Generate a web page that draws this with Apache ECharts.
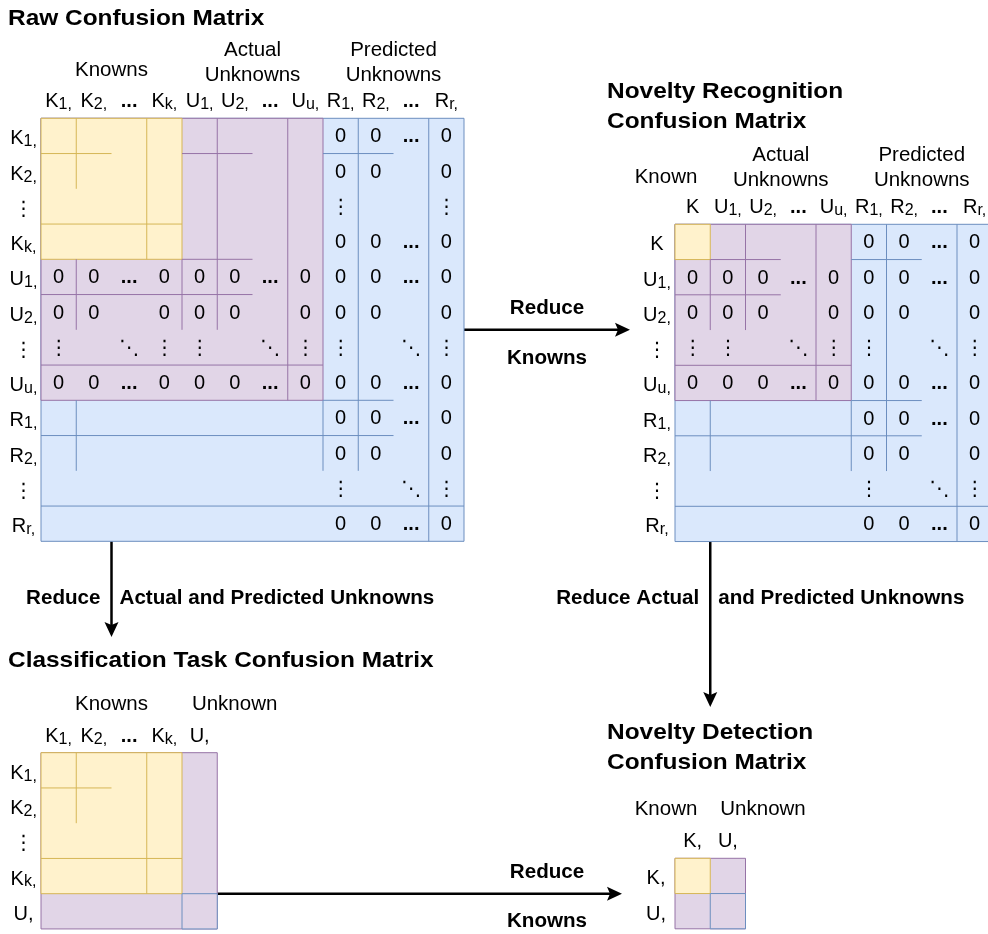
<!DOCTYPE html>
<html><head><meta charset="utf-8">
<script src="https://cdn.jsdelivr.net/npm/echarts@6/dist/echarts.min.js"></script>
<style>html,body{margin:0;padding:0;background:#fff}#c{width:988px;height:934px}</style>
</head><body><div id="c"></div>
<script>
// ================= DATA =================
// Raw confusion matrix
const rawRowLabels = ['K_1,','K_2,','⋮','K_k,','U_1,','U_2,','⋮','U_u,','R_1,','R_2,','⋮','R_r,'];
const rawColLabels = ['K_1,','K_2,','...','K_k,','U_1,','U_2,','...','U_u,','R_1,','R_2,','...','R_r,'];
const rawHeaders = ['Knowns','Actual\nUnknowns','Predicted\nUnknowns'];
const rawCells = [
  ['','','','','','','','','0','0','...','0'],
  ['','','','','','','','','0','0','','0'],
  ['','','','','','','','','⋮','','','⋮'],
  ['','','','','','','','','0','0','...','0'],
  ['0','0','...','0','0','0','...','0','0','0','...','0'],
  ['0','0','','0','0','0','','0','0','0','','0'],
  ['⋮','','⋱','⋮','⋮','','⋱','⋮','⋮','','⋱','⋮'],
  ['0','0','...','0','0','0','...','0','0','0','...','0'],
  ['','','','','','','','','0','0','...','0'],
  ['','','','','','','','','0','0','','0'],
  ['','','','','','','','','⋮','','⋱','⋮'],
  ['','','','','','','','','0','0','...','0']
];
// blocks: [kind, firstRow, lastRow, firstCol, lastCol]
const rawBlocks = [['predicted',0,11,0,11],['actual',0,7,0,7],['known',0,3,0,3]];
// dividers: [kind, 'v'|'h', boundary, from, to]
const rawDividers = [
  ['known','v',1,0,2],['known','h',1,0,2],['known','v',3,0,4],['known','h',3,0,4],
  ['actual','h',1,4,6],['actual','v',5,0,6],['actual','v',7,0,8],['actual','h',4,4,6],
  ['actual','v',4,4,6],['actual','v',1,4,6],['actual','h',5,0,6],['actual','h',7,0,8],
  ['predicted','v',8,8,10],['predicted','v',9,0,10],['predicted','h',1,8,10],['predicted','v',11,0,12],
  ['predicted','h',8,8,10],['predicted','h',9,0,10],['predicted','v',1,8,10],['predicted','h',11,0,12]
];

// Novelty recognition confusion matrix
const nrRowLabels = ['K','U_1,','U_2,','⋮','U_u,','R_1,','R_2,','⋮','R_r,'];
const nrColLabels = ['K','U_1,','U_2,','...','U_u,','R_1,','R_2,','...','R_r,'];
const nrHeaders = ['Known','Actual\nUnknowns','Predicted\nUnknowns'];
const nrCells = [
  ['','','','','','0','0','...','0'],
  ['0','0','0','...','0','0','0','...','0'],
  ['0','0','0','','0','0','0','','0'],
  ['⋮','⋮','','⋱','⋮','⋮','','⋱','⋮'],
  ['0','0','0','...','0','0','0','...','0'],
  ['','','','','','0','0','...','0'],
  ['','','','','','0','0','','0'],
  ['','','','','','⋮','','⋱','⋮'],
  ['','','','','','0','0','...','0']
];
const nrBlocks = [['predicted',0,8,0,8],['actual',0,4,0,4],['known',0,0,0,0]];
const nrDividers = [
  ['actual','v',2,0,3],['actual','v',1,1,3],['actual','v',4,0,5],['actual','h',1,1,3],
  ['actual','h',2,0,3],['actual','h',4,0,5],
  ['predicted','v',5,5,7],['predicted','v',6,0,7],['predicted','h',1,5,7],['predicted','h',5,5,7],
  ['predicted','h',6,0,7],['predicted','v',1,5,7],['predicted','v',8,0,9],['predicted','h',8,0,9]
];

// Classification task confusion matrix
const ctRowLabels = ['K_1,','K_2,','⋮','K_k,','U,'];
const ctColLabels = ['K_1,','K_2,','...','K_k,','U,'];
const ctHeaders = ['Knowns','Unknown'];
const ctCells = [];
const ctBlocks = [['actual',0,4,0,4],['known',0,3,0,3],['overlap',4,4,4,4]];
const ctDividers = [['known','v',1,0,2],['known','h',1,0,2],['known','v',3,0,4],['known','h',3,0,4]];

// Novelty detection confusion matrix
const ndRowLabels = ['K,','U,'];
const ndColLabels = ['K,','U,'];
const ndHeaders = ['Known','Unknown'];
const ndCells = [];
const ndBlocks = [['actual',0,1,0,1],['known',0,0,0,0],['overlap',1,1,1,1]];
const ndDividers = [];

const titles = ['Raw Confusion Matrix','Novelty Recognition\nConfusion Matrix','Classification Task Confusion Matrix','Novelty Detection\nConfusion Matrix'];
const arrowLabels = [['Reduce','Knowns'],['Reduce','Actual and Predicted Unknowns'],['Reduce Actual','and Predicted Unknowns'],['Reduce','Knowns']];

// ================= STYLE / LAYOUT =================
const FONT = "'Liberation Sans', Arial, Helvetica, 'DejaVu Sans', sans-serif";
const STYLE = {
  known: {fill:'#fff2cc', stroke:'#d6b656'},
  actual: {fill:'#e1d5e7', stroke:'#9673a6'},
  predicted: {fill:'#dae8fc', stroke:'#6c8ebf'},
  overlap: {fill:'#e1d5e7', stroke:'#6c8ebf'}
};
const CELL = 35.25;
const M = [
  {left:41, top:118.3, rows:rawRowLabels, cols:rawColLabels, cells:rawCells, blocks:rawBlocks, dividers:rawDividers, rowMargin:17.5},
  {left:675, top:224.3, rows:nrRowLabels, cols:nrColLabels, cells:nrCells, blocks:nrBlocks, dividers:nrDividers, rowMargin:18},
  {left:41, top:752.7, rows:ctRowLabels, cols:ctColLabels, cells:ctCells, blocks:ctBlocks, dividers:ctDividers, rowMargin:17.5},
  {left:675, top:858.3, rows:ndRowLabels, cols:ndColLabels, cells:ndCells, blocks:ndBlocks, dividers:ndDividers, rowMargin:19}
];

function labelFmt(v){
  const i = v.indexOf('_');
  if (i >= 0) return '{b|' + v.slice(0,i) + '}{s|' + v.slice(i+1) + '}';
  if (v === '...') return '{d|...}';
  return '{n|' + v + '}';
}
const RICH = {
  b:{fontSize:20, fontFamily:FONT, color:'#000', padding:[7,0,0,0], verticalAlign:'top'},
  s:{fontSize:16, fontFamily:FONT, color:'#000', padding:[12,0,0,0], verticalAlign:'top'},
  n:{fontSize:20, fontFamily:FONT, color:'#000', padding:[7,0,1,0], verticalAlign:'top'},
  d:{fontSize:20, fontWeight:'bold', fontFamily:FONT, color:'#000', padding:[7,0,1,0], verticalAlign:'top'}
};

function flatten(rows){ const out=[]; rows.forEach((row,r)=>row.forEach((t,c)=>{ if(t) out.push([c,r,t]); })); return out; }

const grid=[], xAxis=[], yAxis=[], series=[];
M.forEach((m,g)=>{
  grid.push({left:m.left, top:m.top, width:m.cols.length*CELL, height:m.rows.length*CELL, containLabel:false, outerBoundsMode:'none'});
  xAxis.push({gridIndex:g, type:'category', data:m.cols, position:'top', axisLine:{show:false}, axisTick:{show:false}, splitLine:{show:false},
    axisLabel:{interval:0, margin:5.5, formatter:labelFmt, rich:RICH}});
  yAxis.push({gridIndex:g, type:'category', data:m.rows, inverse:true, axisLine:{show:false}, axisTick:{show:false}, splitLine:{show:false},
    axisLabel:{interval:0, align:'center', margin:m.rowMargin, formatter:labelFmt, rich:RICH}});
  const blocks = m.blocks;
  series.push({type:'custom', xAxisIndex:g, yAxisIndex:g, silent:true, clip:false,
    data: blocks.map(b=>[b[3], b[1], b[4], b[2]]), encode:{x:[0,2], y:[1,3]},
    renderItem:(p, api)=>{
      const b = blocks[p.dataIndex]; const w = api.size([1,1]);
      const a = api.coord([b[3], b[1]]); const z = api.coord([b[4], b[2]]);
      const st = STYLE[b[0]];
      return {type:'rect', shape:{x:a[0]-w[0]/2, y:a[1]-w[1]/2, width:z[0]-a[0]+w[0], height:z[1]-a[1]+w[1]},
        style:{fill:st.fill, stroke:st.stroke, lineWidth:1}};
    }});
  const dv = m.dividers;
  if (dv.length) series.push({type:'custom', xAxisIndex:g, yAxisIndex:g, silent:true, clip:false,
    data: dv.map(d=>d[0]==='v' ? [Math.min(d[2], m.cols.length-1), d[3]] : [d[3], Math.min(d[2], m.rows.length-1)]),
    renderItem:(p, api)=>{
      const d = dv[p.dataIndex]; const w = api.size([1,1]); const o = api.coord([0,0]);
      const x0 = o[0]-w[0]/2, y0 = o[1]-w[1]/2; let s;
      if (d[1]==='v') s = {x1:x0+d[2]*w[0], x2:x0+d[2]*w[0], y1:y0+d[3]*w[1], y2:y0+d[4]*w[1]};
      else s = {y1:y0+d[2]*w[1], y2:y0+d[2]*w[1], x1:x0+d[3]*w[0], x2:x0+d[4]*w[0]};
      return {type:'line', shape:s, style:{stroke:STYLE[d[0]].stroke, lineWidth:1}};
    }});
  const cl = flatten(m.cells);
  if (cl.length) series.push({type:'custom', xAxisIndex:g, yAxisIndex:g, silent:true, clip:false,
    data: cl.map(c=>[c[0], c[1]]),
    renderItem:(p, api)=>{
      const c = cl[p.dataIndex]; const pt = api.coord([c[0], c[1]]);
      const dots = c[2]==='...';
      return {type:'text', x:pt[0], y:pt[1]+1, style:{text:c[2], fill:'#000', fontSize:20, fontFamily:FONT,
        fontWeight: dots?'bold':'normal', align:'center', verticalAlign:'middle'}};
    }});
});

// ---- headers, titles, arrows (annotation layer) ----
const graphic = [];
function txt(text, x, y, opt){
  opt = opt || {};
  graphic.push({type:'text', x:x, y:y, scaleX:opt.scaleX||1, silent:true,
    style:{text:text, fill:'#000', fontSize:opt.size||20.5, fontWeight:opt.bold?'bold':'normal', fontFamily:FONT,
      align:opt.align||'center', verticalAlign:'middle', lineHeight:opt.lh||25}});
}
function colCenter(m, c0, c1){ return m.left + (c0 + c1 + 1)/2*CELL; }
// group headers
txt(rawHeaders[0], colCenter(M[0],0,3), 70);
txt(rawHeaders[1], colCenter(M[0],4,7), 63);
txt(rawHeaders[2], colCenter(M[0],8,11), 63);
txt(nrHeaders[0], M[1].left - 9, 177.5);
txt(nrHeaders[1], colCenter(M[1],1,4), 168);
txt(nrHeaders[2], colCenter(M[1],5,8), 168);
txt(ctHeaders[0], colCenter(M[2],0,3), 704);
txt(ctHeaders[1], colCenter(M[2],4,4) + 35, 704);
txt(ndHeaders[0], M[3].left - 9, 809.5);
txt(ndHeaders[1], M[3].left + 88, 809.5);
// titles
const TS = {bold:true, size:22, scaleX:1.11, align:'left', lh:29.5};
txt(titles[0], 8, 19, TS);
txt(titles[1], 607, 107, TS);
txt(titles[2], 8, 661, TS);
txt(titles[3], 607, 748, TS);
// arrows
function arrow(x1, y1, x2, y2){
  const dx = Math.sign(x2-x1), dy = Math.sign(y2-y1);
  const L = 15, H = 7, N = 12;
  graphic.push({type:'line', silent:true, shape:{x1:x1, y1:y1, x2:x2 - dx*N, y2:y2 - dy*N}, style:{stroke:'#000', lineWidth:2.5}});
  const bx = x2 - dx*L, by = y2 - dy*L, nx = x2 - dx*N, ny = y2 - dy*N;
  graphic.push({type:'polygon', silent:true, shape:{points:[[x2,y2],[bx - dy*H, by + dx*H],[nx,ny],[bx + dy*H, by - dx*H]]}, style:{fill:'#000'}});
}
const rawRight = M[0].left + M[0].cols.length*CELL, rawBottom = M[0].top + M[0].rows.length*CELL;
const nrBottom = M[1].top + M[1].rows.length*CELL;
const ctRight = M[2].left + M[2].cols.length*CELL;
const a1y = M[0].top + 6*CELL, a2x = M[0].left + 2*CELL, a3x = M[1].left + CELL, a4y = M[2].top + 4*CELL;
arrow(rawRight, a1y, 630, a1y);
arrow(a2x, rawBottom, a2x, 637);
arrow(a3x, nrBottom, a3x, 707);
arrow(ctRight, a4y, 622, a4y);
const AS = {bold:true, size:20, scaleX:1.03};
txt(arrowLabels[0][0], 547, a1y - 21, AS);
txt(arrowLabels[0][1], 547, a1y + 29, AS);
txt(arrowLabels[1][0], a2x - 11, 598, Object.assign({}, AS, {align:'right'}));
txt(arrowLabels[1][1], a2x + 8, 598, Object.assign({}, AS, {align:'left'}));
txt(arrowLabels[2][0], a3x - 11, 598, Object.assign({}, AS, {align:'right'}));
txt(arrowLabels[2][1], a3x + 8, 598, Object.assign({}, AS, {align:'left'}));
txt(arrowLabels[3][0], 547, a4y - 21, AS);
txt(arrowLabels[3][1], 547, a4y + 28, AS);

const chart = echarts.init(document.getElementById('c'), null, {renderer:'canvas'});
chart.setOption({animation:false, backgroundColor:'#fff', tooltip:{show:false}, grid, xAxis, yAxis, series, graphic});
</script></body></html>
